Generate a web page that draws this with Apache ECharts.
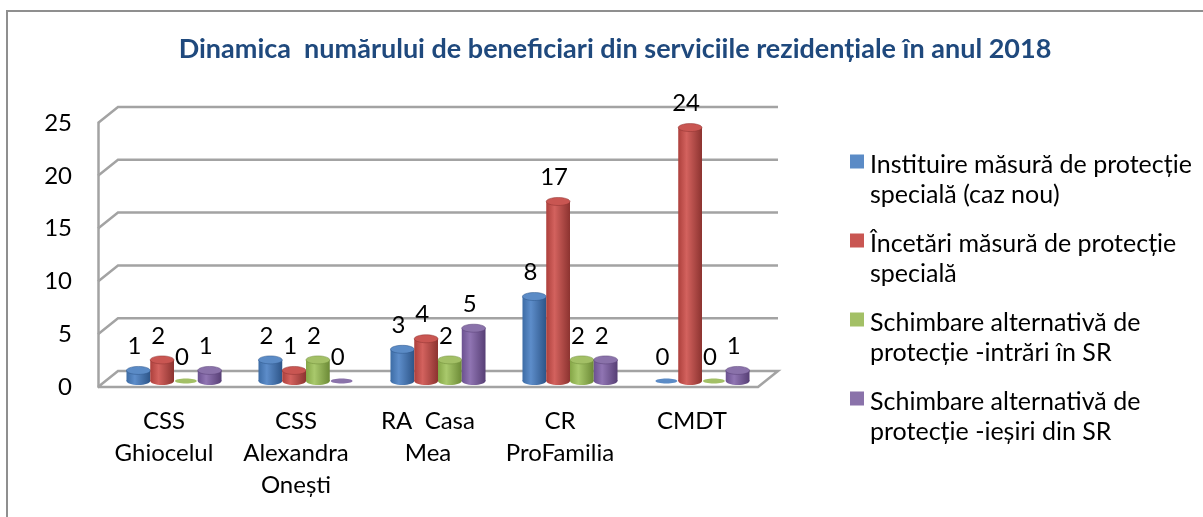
<!DOCTYPE html>
<html>
<head>
<meta charset="utf-8">
<title>Dinamica beneficiari 2018</title>
<script src="https://cdn.jsdelivr.net/npm/echarts@6/dist/echarts.min.js"></script>
<style>
  html, body { margin: 0; padding: 0; background: #fff; overflow: hidden; }
  #chart { position: absolute; left: 0; top: 0; width: 1203px; height: 517px; }
  /* chenarul gri din jurul graficului */
  #frame { position: absolute; left: 6px; top: 10px; width: 1300px; height: 600px;
           border: 2px solid #8f8f8f; pointer-events: none; }
</style>
</head>
<body>
<div id="chart"></div>
<div id="frame"></div>
<script>
  // date
  const categories = ['CSS\nGhiocelul', 'CSS\nAlexandra\nOnești', 'RA  Casa\nMea', 'CR\nProFamilia', 'CMDT'];
  const seriesNames = [
    'Instituire măsură de protecție\nspecială (caz nou)',
    'Încetări măsură de protecție\nspecială',
    'Schimbare alternativă de\nprotecție -intrări în SR',
    'Schimbare alternativă de\nprotecție -ieșiri din SR'
  ];
  const instituire = [1, 2, 3, 8, 0];
  const incetari = [2, 1, 4, 17, 24];
  const intrari = [0, 2, 2, 2, 0];
  const iesiri = [1, 0, 5, 2, 1];
  const yTicks = [0, 5, 10, 15, 20, 25];

  const FONT = 'Lato, "Open Sans", sans-serif';
  const GRID_GRAY = '#a3a3a3';
  const DEPTH = [20, -16];      // deplasarea peretelui din spate
  const BAR_SHIFT = [10, -6];   // cilindrii stau la mijlocul adancimii

  // culori cilindri: [stanga, lumina, dreapta, capac]
  const shades = [
    ['#3d6ca5', '#5d8dca', '#2d5588', '#5b8bc6'],
    ['#ad403c', '#d3625e', '#8c3330', '#c95652'],
    ['#85a647', '#a9c96c', '#6c8a36', '#a3c066'],
    ['#6b5190', '#9075b3', '#573f75', '#8a72aa']
  ];

  let chart = echarts.init(document.getElementById('chart'));

  function renderFrame(params, api) {
    const cs = params.coordSys;
    const v = api.value(0);
    const y = api.coord([0, v])[1];
    const left = cs.x, right = cs.x + cs.width;
    let pts;
    if (v === 0) {
      pts = [[left, y], [right, y], [right + DEPTH[0], y + DEPTH[1]], [left + DEPTH[0], y + DEPTH[1]], [left, y]];
    } else {
      pts = [[left, y], [left + DEPTH[0], y + DEPTH[1]], [right + DEPTH[0], y + DEPTH[1]]];
    }
    return {
      type: 'polyline',
      shape: { points: pts },
      style: { stroke: GRID_GRAY, lineWidth: 2.5, fill: null },
      silent: true
    };
  }

  function renderBar(params, api) {
    const idx = params.seriesIndex - 1;
    const cat = api.value(0), val = api.value(1);
    const top = api.coord([cat, val]);
    const base = api.coord([cat, 0]);
    const band = api.size([1, 0])[0];
    const w = band * 0.18;
    const cx = top[0] + (idx - 1.5) * w + BAR_SHIFT[0];
    const topY = top[1] + BAR_SHIFT[1];
    const baseY = base[1] + BAR_SHIFT[1];
    const ry = 4;
    const c = shades[idx];
    const grad = new echarts.graphic.LinearGradient(0, 0, 1, 0, [
      { offset: 0, color: c[0] },
      { offset: 0.35, color: c[1] },
      { offset: 1, color: c[2] }
    ]);
    const children = [];
    if (val > 0) {
      children.push({ type: 'ellipse', shape: { cx: cx, cy: baseY, rx: w / 2, ry: ry }, style: { fill: grad } });
      children.push({ type: 'rect', shape: { x: cx - w / 2, y: topY, width: w, height: baseY - topY }, style: { fill: grad } });
      children.push({ type: 'ellipse', shape: { cx: cx, cy: topY, rx: w / 2, ry: ry }, style: { fill: c[3], stroke: c[2], lineWidth: 0.5 } });
    } else {
      children.push({ type: 'ellipse', shape: { cx: cx, cy: baseY, rx: w / 2 - 1, ry: 2.5 }, style: { fill: c[3] } });
    }
    children.push({
      type: 'text',
      style: {
        text: String(val), x: cx - 4, y: topY - 24,
        fill: '#000', font: '24px ' + FONT, align: 'center', verticalAlign: 'middle'
      },
      z2: 10
    });
    return { type: 'group', children: children };
  }

  const values = [instituire, incetari, intrari, iesiri];

  let option = {
    animation: false,
    title: {
      text: 'Dinamica  numărului de beneficiari din serviciile rezidențiale în anul 2018',
      left: 610,
      top: 31,
      textAlign: 'center',
      textStyle: { color: '#1f497d', fontFamily: FONT, fontWeight: 'bold', fontSize: 27 }
    },
    grid: {
      left: 98,
      right: 445,
      top: 123,
      bottom: 130
    },
    legend: {
      orient: 'vertical',
      left: 845,
      top: 145,
      itemGap: 19,
      itemWidth: 14,
      itemHeight: 51,
      // patratul sus, punct gol jos -> iconita aliniata cu primul rand
      icon: 'path://M0,0h14v14h-14z M0,51h14v0h-14z',
      selectedMode: false,
      data: seriesNames,
      itemStyle: { borderWidth: 0 },
      textStyle: { fontFamily: FONT, fontSize: 25, lineHeight: 30, color: '#000', padding: [0, 0, 0, 1] }
    },
    xAxis: {
      type: 'category',
      data: categories,
      axisLine: { show: false },
      axisTick: { show: false },
      axisLabel: {
        interval: 0,
        margin: 18,
        color: '#000',
        fontFamily: FONT,
        fontSize: 24,
        lineHeight: 32
      }
    },
    yAxis: {
      type: 'value',
      min: 0,
      max: 25,
      interval: 5,
      axisLine: { show: true, lineStyle: { color: GRID_GRAY, width: 2.5 } },
      axisTick: { show: false },
      splitLine: { show: false },
      axisLabel: { margin: 26, color: '#000', fontFamily: FONT, fontSize: 24 }
    },
    series: [
      {
        name: 'frame',
        type: 'custom',
        silent: true,
        z: 1,
        renderItem: renderFrame,
        encode: { y: 0 },
        data: yTicks.map(function (t) { return [t]; })
      }
    ].concat(values.map(function (arr, i) {
      return {
        name: seriesNames[i],
        type: 'custom',
        z: 2,
        itemStyle: { color: shades[i][3] },
        renderItem: renderBar,
        encode: { x: 0, y: 1 },
        data: arr.map(function (v, j) { return [j, v]; })
      };
    }))
  };

  chart.setOption(option);
</script>
</body>
</html>
